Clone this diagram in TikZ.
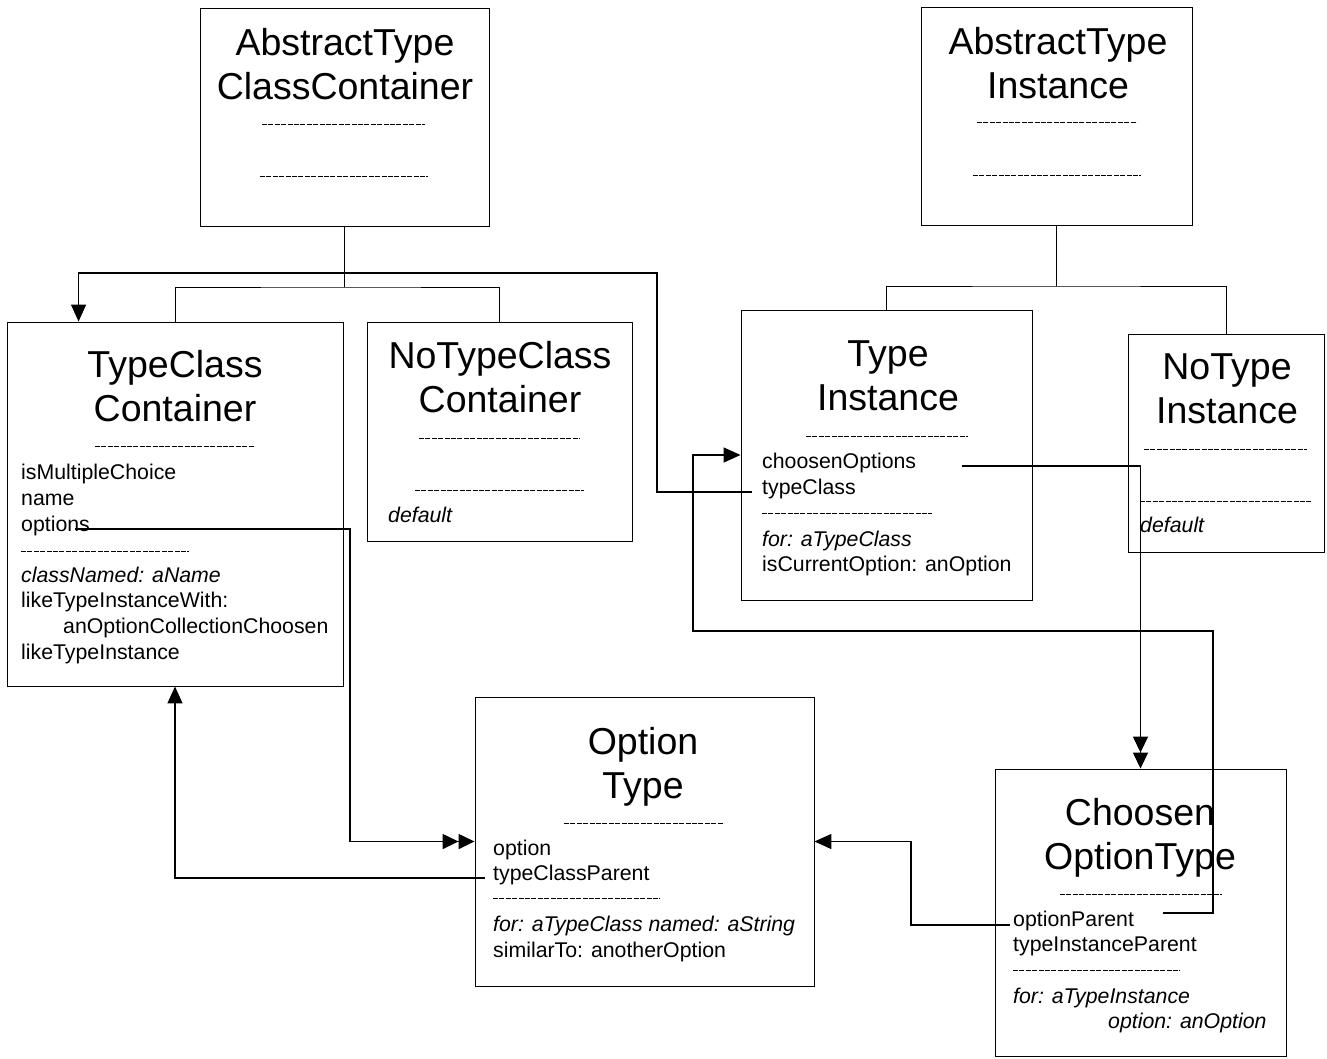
\documentclass[tikz,border=0pt]{standalone}
\usepackage{fontspec}
\setmainfont{Liberation Sans}
\usetikzlibrary{arrows.meta}
\begin{document}
\begin{tikzpicture}[x=1pt,y=-1pt,
  box/.style={draw, line width=0.9pt, inner sep=0pt},
  ttl/.style={font=\fontsize{37.5}{44}\selectfont, anchor=base, inner sep=0pt},
  attr/.style={font=\fontsize{21.3}{26}\selectfont, anchor=base west, inner sep=0pt},
  sepline/.style={line width=0.9pt, dash pattern=on 5pt off 1.4pt},
  link/.style={line width=1.5pt},
  tip/.style={link, -{Triangle[length=17pt,width=15pt]}},
  tiptwo/.style={link, -{Triangle[length=16pt,width=15pt,sep=0pt] Triangle[length=16pt,width=15pt]}}]
\useasboundingbox (0,0) rectangle (1327,1058);

% class boxes
\node[box, minimum width=289pt, minimum height=218pt] (atcc) at (344.5,117) {};
\node[box, minimum width=271pt, minimum height=218pt] (ati)  at (1056.5,116) {};
\node[box, minimum width=336pt, minimum height=364pt] (tcc)  at (175,504) {};
\node[box, minimum width=265pt, minimum height=219pt] (ntcc) at (499.5,431.5) {};
\node[box, minimum width=291pt, minimum height=290pt] (ti)   at (886.5,455) {};
\node[box, minimum width=196pt, minimum height=218pt] (nti)  at (1226,443) {};
\node[box, minimum width=339pt, minimum height=289pt] (ot)   at (644.5,841.5) {};
\node[box, minimum width=291pt, minimum height=287pt] (cot)  at (1140.5,912.5) {};

% AbstractTypeClassContainer
\node[ttl] (atccA) at (345,55) {AbstractType};
\node[ttl] (atccB) at (345,99) {ClassContainer};
\draw[sepline] (262,124) -- (425,124);
\draw[sepline] (260,176) -- (428,176);

% AbstractTypeInstance
\node[ttl] (atiA) at (1058,54) {AbstractType};
\node[ttl] (atiB) at (1058,98) {Instance};
\draw[sepline] (977,122) -- (1137,122);
\draw[sepline] (973,175) -- (1141,175);

% TypeClassContainer
\node[ttl] (tccA) at (175,377) {TypeClass};
\node[ttl] (tccB) at (175,421) {Container};
\draw[sepline] (95,446) -- (255,446);
\node[attr] (tcc1) at (21,479) {isMultipleChoice};
\node[attr] (tcc2) at (21,505) {name};
\node[attr] (tcc3) at (21,531) {options};
\draw[sepline] (21,551) -- (189,551);
\node[attr] (tcc4) at (21,582) {\itshape classNamed: aName};
\node[attr] (tcc5) at (21,607) {likeTypeInstanceWith:};
\node[attr] (tcc6) at (63,633) {anOptionCollectionChoosen};
\node[attr] (tcc7) at (21,659) {likeTypeInstance};

% NoTypeClassContainer
\node[ttl] (ntccA) at (500,368) {NoTypeClass};
\node[ttl] (ntccB) at (500,412) {Container};
\draw[sepline] (419,438) -- (580,438);
\draw[sepline] (415,490) -- (584,490);
\node[attr] (ntcc1) at (388,522) {\itshape default};

% TypeInstance
\node[ttl] (tiA) at (888,366) {Type};
\node[ttl] (tiB) at (888,410) {Instance};
\draw[sepline] (806,436) -- (968,436);
\node[attr] (ti1) at (762,468) {choosenOptions};
\node[attr] (ti2) at (762,494) {typeClass};
\draw[sepline] (762,513) -- (932,513);
\node[attr] (ti3) at (762,546) {\itshape for: aTypeClass};
\node[attr] (ti4) at (762,571) {isCurrentOption: anOption};

% NoTypeInstance
\node[ttl] (ntiA) at (1227,379) {NoType};
\node[ttl] (ntiB) at (1227,423) {Instance};
\draw[sepline] (1144,449) -- (1307,449);
\draw[sepline] (1140,501) -- (1311,501);
\node[attr] (nti1) at (1140,532) {\itshape default};

% OptionType
\node[ttl] (otA) at (643,754) {Option};
\node[ttl] (otB) at (643,798) {Type};
\draw[sepline] (564,823) -- (724,823);
\node[attr] (ot1) at (493,855) {option};
\node[attr] (ot2) at (493,880) {typeClassParent};
\draw[sepline] (493,898) -- (660,898);
\node[attr] (ot3) at (493,931) {\itshape for: aTypeClass named: aString};
\node[attr] (ot4) at (493,957) {similarTo: anotherOption};

% ChoosenOptionType
\node[ttl] (cotA) at (1140,825) {Choosen};
\node[ttl] (cotB) at (1140,869) {OptionType};
\draw[sepline] (1060,894) -- (1222,894);
\node[attr] (cot1) at (1013,926) {optionParent};
\node[attr] (cot2) at (1013,951) {typeInstanceParent};
\draw[sepline] (1013,970) -- (1180,970);
\node[attr] (cot3) at (1013,1003) {\itshape for: aTypeInstance};
\node[attr] (cot4) at (1108,1028) {\itshape option: anOption};

% inheritance trees
\coordinate (j1) at (344.5,287);
\draw[line width=0.9pt] (atcc.south) -- (j1);
\draw[line width=0.9pt] (tcc.north) |- (j1) -| (ntcc.north);
\coordinate (j2) at (1056.5,286);
\draw[line width=0.9pt] (ati.south) -- (j2);
\draw[line width=0.9pt] (ti.north) |- (j2) -| (nti.north);

% attribute links
\coordinate (tiTC) at (752,492);
\coordinate (k1) at (657,273);
\draw[tip] (tiTC) -| (k1) -| ([xshift=72pt]tcc.north west);

\coordinate (tccOpt) at (75,529);
\coordinate (m1) at (350,841.5);
\draw[tiptwo] (tccOpt) -| (m1) -- (ot.west);

\coordinate (otTCP) at (485,878);
\draw[tip] (otTCP) -| (tcc.south);

\coordinate (tiCO) at (962,466);
\draw[tiptwo] (tiCO) -| (cot.north);

\coordinate (cotOP2) at (1163,913);
\coordinate (n1) at (1213,631);
\coordinate (n2) at (693,455);
\draw[tip] (cotOP2) -| (n1) -| (n2) -- (ti.west);

\coordinate (cotOP) at (1010,925);
\coordinate (p1) at (911,841.5);
\draw[tip] (cotOP) -| (p1) -- (ot.east);
\end{tikzpicture}
\end{document}
